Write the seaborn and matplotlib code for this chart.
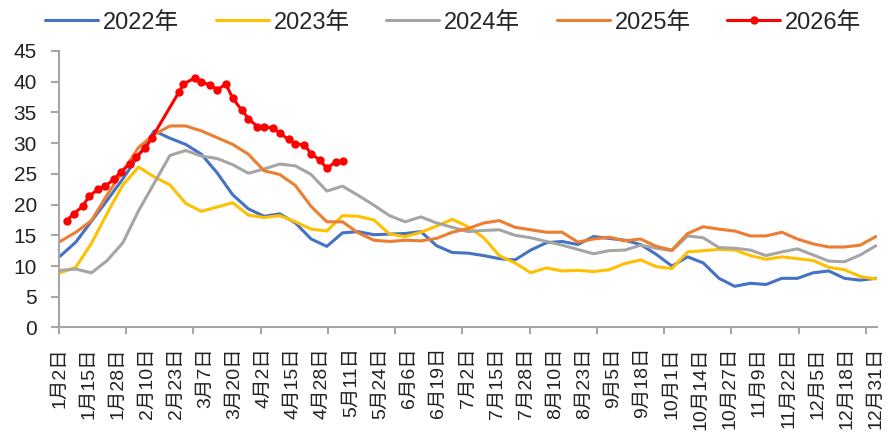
import pandas as pd
import matplotlib
matplotlib.use("Agg")
import matplotlib.pyplot as plt
import seaborn as sns
from matplotlib.ticker import FixedLocator

# day index 0 = 1月2日 (leap-year calendar, 365 categories up to 12月31日)
hist_days = list(range(0, 365, 7))

y2022 = [11.6, 13.9, 17.3, 20.7, 24.2, 28.0, 32.0, 30.8, 29.8, 28.2, 25.2, 21.6, 19.3,
         18.1, 18.5, 17.0, 14.4, 13.2, 15.4, 15.6, 15.1, 15.2, 15.3, 15.6, 13.3, 12.2,
         12.1, 11.7, 11.2, 11.0, 12.6, 13.8, 14.0, 13.5, 14.8, 14.5, 14.2, 13.5, 11.9,
         10.0, 11.5, 10.5, 8.0, 6.7, 7.2, 7.0, 8.0, 8.0, 8.9, 9.2, 8.0, 7.7, 8.0]
y2023 = [8.9, 9.8, 13.7, 18.6, 23.2, 26.1, 24.5, 23.2, 20.2, 18.9, 19.6, 20.3, 18.3,
         17.9, 18.2, 17.2, 16.0, 15.7, 18.2, 18.1, 17.5, 15.2, 14.8, 15.5, 16.5, 17.6,
         16.4, 14.6, 11.7, 10.5, 8.9, 9.7, 9.2, 9.3, 9.1, 9.4, 10.4, 11.0, 9.9,
         9.6, 12.3, 12.5, 12.7, 12.6, 11.7, 11.1, 11.5, 11.2, 10.9, 9.8, 9.4, 8.3, 7.9]
y2024 = [9.3, 9.5, 8.9, 10.9, 13.8, 19.0, 23.5, 28.0, 28.8, 27.9, 27.5, 26.5, 25.1,
         25.8, 26.6, 26.3, 24.9, 22.2, 23.0, 21.5, 19.9, 18.2, 17.2, 18.0, 17.0, 16.3,
         15.6, 15.8, 15.9, 15.0, 14.6, 14.0, 13.4, 12.7, 12.0, 12.5, 12.6, 13.4, 12.9,
         12.5, 14.9, 14.6, 13.0, 12.9, 12.6, 11.7, 12.3, 12.8, 11.8, 10.8, 10.7, 11.8, 13.3]
y2025 = [14.0, 15.5, 17.4, 21.6, 25.4, 29.3, 31.4, 32.8, 32.8, 32.0, 30.9, 29.8, 28.2,
         25.5, 24.9, 23.1, 19.7, 17.2, 17.2, 15.4, 14.2, 14.0, 14.2, 14.1, 14.5, 15.5,
         16.1, 17.0, 17.4, 16.3, 15.9, 15.5, 15.5, 13.9, 14.4, 14.7, 14.1, 14.4, 13.2,
         12.6, 15.3, 16.4, 16.0, 15.7, 14.9, 14.9, 15.5, 14.4, 13.6, 13.1, 13.1, 13.4, 14.8]

days_2026 = [3, 6, 10, 13, 17, 20, 24, 27, 31, 34, 38, 41, 53, 55, 60, 63, 67, 70, 74,
             77, 81, 84, 88, 91, 95, 98, 102, 105, 109, 112, 116, 119, 123, 126]
y2026 = [17.4, 18.5, 19.7, 21.4, 22.5, 23.0, 24.1, 25.3, 26.6, 27.8, 29.2, 30.9, 38.3,
         39.6, 40.6, 39.9, 39.5, 38.7, 39.6, 37.3, 35.4, 34.0, 32.7, 32.6, 32.5, 31.6,
         30.6, 29.9, 29.7, 28.3, 27.2, 25.9, 27.0, 27.1]

tick_labels = ["1月2日", "1月15日", "1月28日", "2月10日", "2月23日", "3月7日", "3月20日",
               "4月2日", "4月15日", "4月28日", "5月11日", "5月24日", "6月6日", "6月19日",
               "7月2日", "7月15日", "7月28日", "8月10日", "8月23日", "9月5日", "9月18日",
               "10月1日", "10月14日", "10月27日", "11月9日", "11月22日", "12月5日",
               "12月18日", "12月31日"]

colors = {"2022年": "#4472C4", "2023年": "#FFC000", "2024年": "#A5A5A5",
          "2025年": "#ED7D31", "2026年": "#FF0000"}

sns.set_style("white")
plt.rcParams["font.family"] = ["Liberation Sans", "Noto Sans CJK SC", "DejaVu Sans"]

hist = pd.DataFrame({"day": hist_days, "2022年": y2022, "2023年": y2023,
                     "2024年": y2024, "2025年": y2025})
hist = hist.melt(id_vars="day", var_name="year", value_name="value")
cur = pd.DataFrame({"day": days_2026, "value": y2026, "year": "2026年"})

fig = plt.figure(figsize=(8.94, 4.44), dpi=100)
ax = fig.add_axes([0.066, 0.2624, 0.915, 0.6228])

for yr in ["2022年", "2023年", "2024年", "2025年"]:
    sns.lineplot(data=hist[hist.year == yr], x="day", y="value", ax=ax,
                 color=colors[yr], linewidth=2.2, label=yr, estimator=None)
sns.lineplot(data=cur, x="day", y="value", ax=ax, color=colors["2026年"],
             linewidth=2.2, marker="o", markersize=6, markeredgewidth=0,
             label="2026年", estimator=None)

ax.set_xlim(-0.5, 364.5)
ax.set_ylim(0, 45)
ax.set_yticks(range(0, 46, 5))
ax.set_xlabel("")
ax.set_ylabel("")

ax.xaxis.set_major_locator(FixedLocator(range(0, 365, 13)))
ax.set_xticklabels(tick_labels, rotation=90, fontsize=14, color="#222222")
ax.xaxis.set_minor_locator(FixedLocator([-0.5 + 30 * k for k in range(13)]))
ax.tick_params(axis="x", which="major", length=0, pad=14)
ax.tick_params(axis="x", which="minor", length=5, width=1.5, color="#A6A6A6",
               direction="out", bottom=True)
ax.tick_params(axis="y", length=6, width=1.5, color="#A6A6A6", direction="out",
               pad=10, labelsize=15, labelcolor="#222222", left=True)

for s in ["top", "right"]:
    ax.spines[s].set_visible(False)
for s in ["left", "bottom"]:
    ax.spines[s].set_color("#A6A6A6")
    ax.spines[s].set_linewidth(1.5)

leg = ax.legend(loc="center", bbox_to_anchor=(0.507, 0.949),
                bbox_transform=fig.transFigure, ncol=5, frameon=False,
                fontsize=17, handlelength=2.25, handletextpad=0.2,
                columnspacing=1.55)

fig.savefig("out.png", dpi=100)
